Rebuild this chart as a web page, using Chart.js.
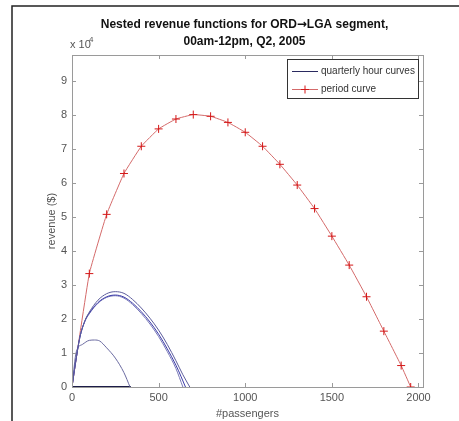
<!DOCTYPE html>
<html>
<head>
<meta charset="utf-8">
<script src="https://cdn.jsdelivr.net/npm/chart.js@4.4.1/dist/chart.umd.min.js"></script>
<style>
  html, body { margin: 0; padding: 0; background: #ffffff; }
  #wrap { width: 459px; height: 421px; position: relative; }
</style>
</head>
<body>
<div id="wrap"><canvas id="c" width="459" height="421"></canvas></div>
<script>
// ---- data ----
const titleParts = ["Nested revenue functions for ORD", "\u2192", "LGA segment,"];
const titleLine2 = "00am-12pm, Q2, 2005";
const xTicks = [0, 500, 1000, 1500, 2000];
const yTicks = [0, 10000, 20000, 30000, 40000, 50000, 60000, 70000, 80000, 90000];

// period curve (red, '+' markers)
const periodX = [0, 100, 200, 300, 400, 500, 600, 700, 800, 900, 1000, 1100, 1200, 1300, 1400, 1500, 1600, 1700, 1800, 1900, 1955];
const periodY = [0, 33300, 50700, 62700, 70700, 75800, 78700, 80000, 79500, 77700, 74800, 70700, 65400, 59300, 52400, 44300, 35800, 26500, 16400, 6300, 0];

// quarterly hour curves (blue)
const qAX = [0, 20, 45, 75, 100, 150, 200, 250, 300, 350, 400, 450, 500, 550, 600, 640, 680];
const qAY = [0, 7000, 14500, 19500, 22000, 25500, 27400, 28000, 27500, 25700, 23200, 20200, 16700, 12500, 7700, 3600, 0];
const qBX = [0, 20, 45, 75, 100, 150, 200, 250, 300, 350, 400, 450, 500, 550, 600, 630, 655];
const qBY = [0, 7000, 14500, 19500, 21700, 24800, 26500, 27000, 26400, 24600, 22100, 19100, 15500, 11200, 6400, 3000, 0];
const qCX = [0, 20, 45, 75, 100, 150, 200, 250, 300, 350, 400, 450, 500, 550, 600, 640];
const qCY = [0, 7000, 14500, 19300, 21500, 24600, 26300, 26800, 26100, 24200, 21600, 18500, 14800, 10400, 5400, 0];
const qDX = [0, 25, 60, 100, 130, 160, 200, 250, 300, 335];
const qDY = [0, 10400, 12500, 13700, 13800, 13500, 11500, 8500, 4200, 0];
const qEX = [0, 340];
const qEY = [0, 0];

const legendLabels = ["quarterly hour curves", "period curve"];

function pts(xs, ys) { return xs.map((x, i) => ({ x: x, y: ys[i] })); }

const FONT = "'Liberation Sans', Arial, sans-serif";
const AXIS_GRAY = '#9a9a9a';
const TEXT_GRAY = '#555555';

const blueBase = { showLine: true, pointRadius: 0, borderWidth: 1, fill: false, cubicInterpolationMode: 'monotone' };

const datasets = [
  Object.assign({ label: legendLabels[0], data: pts(qAX, qAY), borderColor: '#5c5c9c' }, blueBase),
  Object.assign({ label: '_q2', data: pts(qBX, qBY), borderColor: '#3a3aa8' }, blueBase),
  Object.assign({ label: '_q3', data: pts(qCX, qCY), borderColor: '#7a7ab8' }, blueBase),
  Object.assign({ label: '_q4', data: pts(qDX, qDY), borderColor: '#6a6aa0' }, blueBase),
  Object.assign({ label: '_q5', data: pts(qEX, qEY), borderColor: '#1c1c48' }, blueBase, { borderWidth: 2 }),
  {
    label: legendLabels[1], data: pts(periodX, periodY), showLine: true,
    borderColor: '#d46a6a', borderWidth: 1, tension: 0.1,
    pointStyle: 'cross', pointRadius: 4, pointBorderColor: '#d41818', pointBorderWidth: 1,
    pointBackgroundColor: '#d41818', fill: false
  }
];

const matlabPlugin = {
  id: 'matlabLook',
  afterDraw(chart) {
    const ctx = chart.ctx;
    const a = chart.chartArea;
    const xs = chart.scales.x, ys = chart.scales.y;
    ctx.save();
    // outer document frame
    ctx.strokeStyle = '#222';
    ctx.lineWidth = 1.5;
    ctx.beginPath();
    ctx.moveTo(12, 421); ctx.lineTo(12, 6); ctx.lineTo(459, 6);
    ctx.stroke();
    // axes box
    ctx.strokeStyle = AXIS_GRAY;
    ctx.lineWidth = 1;
    ctx.strokeRect(Math.round(a.left) + 0.5, Math.round(a.top) + 0.5, Math.round(a.right - a.left), Math.round(a.bottom - a.top));
    // inward ticks on all four sides
    ctx.beginPath();
    xTicks.forEach(v => {
      const px = Math.round(xs.getPixelForValue(v)) + 0.5;
      ctx.moveTo(px, a.bottom); ctx.lineTo(px, a.bottom - 4);
      ctx.moveTo(px, a.top); ctx.lineTo(px, a.top + 4);
    });
    yTicks.forEach(v => {
      const py = Math.round(ys.getPixelForValue(v)) + 0.5;
      ctx.moveTo(a.left, py); ctx.lineTo(a.left + 4, py);
      ctx.moveTo(a.right, py); ctx.lineTo(a.right - 4, py);
    });
    ctx.stroke();
    // title (arrow drawn with DejaVu so it is full size)
    ctx.fillStyle = '#111';
    ctx.textBaseline = 'middle';
    ctx.textAlign = 'left';
    const cx = (a.left + a.right) / 2 - 3;
    const fMain = "bold 12px " + FONT;
    const fArrow = "bold 12px 'DejaVu Sans'";
    ctx.font = fMain;
    const w0 = ctx.measureText(titleParts[0]).width;
    const w2 = ctx.measureText(titleParts[2]).width;
    ctx.font = fArrow;
    const w1 = ctx.measureText(titleParts[1]).width;
    let tx = cx - (w0 + w1 + w2) / 2;
    ctx.font = fMain; ctx.fillText(titleParts[0], tx, 25); tx += w0;
    ctx.font = fArrow; ctx.fillText(titleParts[1], tx, 25); tx += w1;
    ctx.font = fMain; ctx.fillText(titleParts[2], tx, 25);
    ctx.textAlign = 'center';
    ctx.fillText(titleLine2, cx, 42);
    // x 10^4 multiplier
    ctx.fillStyle = TEXT_GRAY;
    ctx.textAlign = 'left';
    ctx.textBaseline = 'alphabetic';
    ctx.font = "11px " + FONT;
    ctx.fillText("x 10", 70, 48);
    ctx.font = "8px " + FONT;
    ctx.fillText("4", 89, 42);
    // legend
    const lx = 287, ly = 59, lw = 131, lh = 39;
    ctx.fillStyle = '#fff';
    ctx.fillRect(lx, ly, lw, lh);
    ctx.strokeStyle = '#333';
    ctx.lineWidth = 1;
    ctx.strokeRect(lx + 0.5, ly + 0.5, lw, lh);
    const rows = [
      { y: 71.5, ds: chart.data.datasets[0] },
      { y: 89.5, ds: chart.data.datasets[5] }
    ];
    rows.forEach((r, i) => {
      ctx.strokeStyle = i === 0 ? '#2a2a60' : '#d46a6a';
      ctx.beginPath();
      ctx.moveTo(292, r.y); ctx.lineTo(318, r.y);
      ctx.stroke();
      if (i === 1) {
        ctx.strokeStyle = '#d41818';
        ctx.beginPath();
        ctx.moveTo(305, r.y - 4); ctx.lineTo(305, r.y + 4);
        ctx.moveTo(301, r.y); ctx.lineTo(309, r.y);
        ctx.stroke();
      }
      ctx.fillStyle = '#333';
      ctx.font = "10px " + FONT;
      ctx.textBaseline = 'middle';
      ctx.fillText(r.ds.label, 321, r.y);
    });
    ctx.restore();
  }
};

new Chart(document.getElementById('c'), {
  type: 'scatter',
  data: { datasets: datasets },
  options: {
    responsive: false,
    animation: false,
    layout: { padding: { left: 0, right: 36, top: 55, bottom: 0 } },
    plugins: { legend: { display: false }, title: { display: false }, tooltip: { enabled: false } },
    scales: {
      x: {
        type: 'linear', min: 0, max: 2026,
        afterBuildTicks: s => { s.ticks = xTicks.map(v => ({ value: v })); },
        afterFit: s => { s.height = 34; },
        grid: { display: false, drawTicks: false },
        border: { display: false },
        ticks: { color: TEXT_GRAY, font: { family: FONT, size: 11 }, padding: 4, maxRotation: 0, autoSkip: false, callback: v => String(v) },
        title: { display: true, text: '#passengers', color: TEXT_GRAY, font: { family: FONT, size: 11 }, padding: { top: 0, bottom: 0 } }
      },
      y: {
        type: 'linear', min: 0, max: 97500,
        afterBuildTicks: s => { s.ticks = yTicks.map(v => ({ value: v })); },
        afterFit: s => { s.width = 72; },
        grid: { display: false, drawTicks: false },
        border: { display: false },
        ticks: { color: TEXT_GRAY, font: { family: FONT, size: 11 }, padding: 5, callback: v => String(v / 10000) },
        title: { display: true, text: 'revenue ($)', color: TEXT_GRAY, font: { family: FONT, size: 11 }, padding: { top: 45, bottom: 0 } }
      }
    }
  },
  plugins: [matlabPlugin]
});
</script>
</body>
</html>
